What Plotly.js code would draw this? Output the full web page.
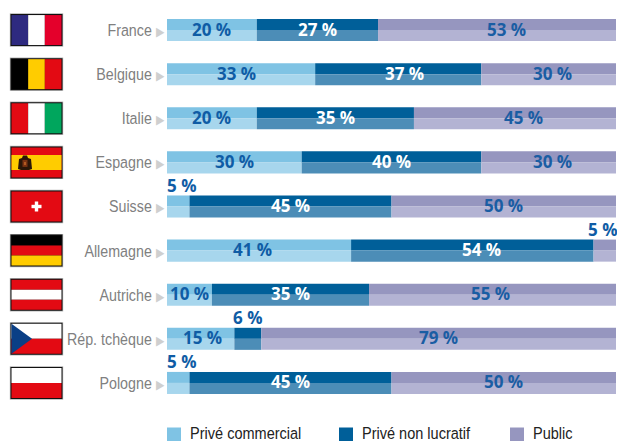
<!DOCTYPE html>
<html><head><meta charset="utf-8">
<script src="https://cdn.plot.ly/plotly-3.0.1.min.js"></script>
<style>html,body{margin:0;padding:0;background:#fff;overflow:hidden}</style></head>
<body><div id="chart" style="width:617px;height:441px"></div>
<script>
const countries = ["France","Belgique","Italie","Espagne","Suisse","Allemagne","Autriche","Rép. tchèque","Pologne"];
const commercial = [20,33,20,30,5,41,10,15,5];
const nonLucratif = [27,37,35,40,45,54,35,6,45];
const publicSector = [53,30,45,30,50,5,55,79,50];
const seriesNames = ["Privé commercial","Privé non lucratif","Public"];
const topColors = ["#7fc3e4","#005f99","#9696bf"];
const lowColors = ["#a7d6ed","#4c8db7","#b3b3d3"];
const labelColors = ["#0f5ca5","#ffffff","#1a5da3"];

const flagDirection = ["v","v","v","es","plain","h","h","cz","h"];
const flagStripes = [
  ["#2e2a80","#ffffff","#e4002b"],
  ["#000000","#ffcc00","#e30a13"],
  ["#e30a13","#ffffff","#00a65d"],
  ["#e30a13","#ffcc00"],
  ["#e30a13"],
  ["#000000","#e30a13","#ffcc00"],
  ["#e30a13","#ffffff","#e30a13"],
  ["#ffffff","#e30a13"],
  ["#ffffff","#e30a13"]
];

const W=617,H=441,L=167,R=1,T=8,B=36;
const pw=W-L-R, ph=H-T-B, rowH=ph/9;
const px=x=>(x-L)/pw, py=y=>1-(y-T)/ph;
const rowY=i=>T+rowH*(i+0.5);
const series=[commercial,nonLucratif,publicSector];
const bases=countries.map((_,i)=>[0,commercial[i],commercial[i]+nonLucratif[i]]);

const traces=[];
series.forEach((vals,s)=>{
  [[topColors,-0.25],[lowColors,0]].forEach(([cols,off])=>{
    traces.push({type:"bar",orientation:"h",name:seriesNames[s],y:countries.map((_,i)=>i),x:vals,
      base:bases.map(b=>b[s]),width:0.25,offset:off,marker:{color:cols[s],line:{width:0}},
      showlegend:false,hoverinfo:"x+name"});
  });
});

const rect=(x0,y0,x1,y1,c)=>({type:"rect",xref:"paper",yref:"paper",x0:px(x0),x1:px(x1),y0:py(y0),y1:py(y1),fillcolor:c,line:{width:0},layer:"above"});
const poly=(pts,c)=>({type:"path",xref:"paper",yref:"paper",layer:"above",fillcolor:c,line:{width:0},
  path:"M"+pts.map(p=>px(p[0])+","+py(p[1])).join("L")+"Z"});
const shapes=[];
countries.forEach((_,i)=>{
  const cy=rowY(i), t=cy-16, b=cy+16, l=10.5, r=62.5;
  shapes.push(rect(l-0.7,t-0.7,r+0.7,b+0.7,"#b5b5b5"));
  shapes.push(rect(l,t,r,b,"#111111"));
  const it=t+1, ib=b-1, il=l+1, ir=r-1, st=flagStripes[i], d=flagDirection[i];
  if(d==="v") st.forEach((c,k)=>shapes.push(rect(il+(ir-il)*k/st.length,it,il+(ir-il)*(k+1)/st.length,ib,c)));
  else if(d==="plain") shapes.push(rect(il,it,ir,ib,st[0]));
  else if(d==="es"){
    shapes.push(rect(il,it,ir,ib,st[0]));
    shapes.push(rect(il,it+(ib-it)*0.25,ir,it+(ib-it)*0.75,st[1]));
    const cx=25, cc=cy+0.5;
    shapes.push(poly([[cx-2,cc-7.5],[cx+2,cc-7.5],[cx+3,cc-5],[cx+6,cc-4],[cx+7,cc+6],[cx+4,cc+7],[cx-4,cc+7],[cx-7,cc+6],[cx-6,cc-4],[cx-3,cc-5]],"#2a1608"));
    shapes.push(rect(cx-2.5,cc-3,cx+2.5,cc+4,"#7a3312"));
    shapes.push(rect(cx-1,cc-1,cx+1,cc+2,"#b25a22"));
  }
  else st.forEach((c,k)=>shapes.push(rect(il,it+(ib-it)*k/st.length,ir,it+(ib-it)*(k+1)/st.length,c)));
  if(d==="cz"){
    const mid=(it+ib)/2, xt=il+20.5;
    shapes.push(poly([[il,it],[xt,mid],[il,ib]],"#0a3f86"));
  }
  if(d==="plain"){
    const cx=36.5;
    shapes.push(rect(cx-5,cy-1.7,cx+5,cy+1.7,"#ffffff"));
    shapes.push(rect(cx-1.7,cy-5,cx+1.7,cy+5,"#ffffff"));
  }
});

// small horizontal nudges (px) of labels, as placed in the reference: "row,series"
const nudge={"0,2":9,"1,0":-5,"1,1":6,"1,2":4,"2,2":9,"3,2":4,"5,0":-7,"5,1":9,"6,2":-2,"7,0":2,"4,0":-2,"8,0":-2,"5,2":3};
const annotations=[];
const valFont=c=>({family:"Open Sans, sans-serif",size:17,color:c,weight:700});
countries.forEach((_,i)=>{
  series.forEach((vals,s)=>{
    const v=vals[i];
    const small=v<=6;
    const a={xref:"x",yref:"y",x:bases[i][s]+v/2,y:i,text:v+" %",showarrow:false,xanchor:"center",yanchor:"middle",
      xshift:nudge[i+","+s]||0,yshift:1,font:valFont(small?"#0f5ca5":labelColors[s])};
    if(small){
      a.yshift=21;
      if(s===0){a.x=bases[i][s];a.xanchor="left";}
      if(s===2){a.x=100;a.xanchor="right";}
    }
    annotations.push(a);
  });
});

const legendX=[167,339,510];
const legendFontSize=16.5;
seriesNames.forEach((n,s)=>{
  shapes.push(rect(legendX[s],427.5,legendX[s]+14,441,topColors[s]));
  annotations.push({xref:"paper",yref:"paper",x:px(legendX[s]+22),y:py(433),xanchor:"left",yanchor:"middle",showarrow:false,text:n,borderpad:0,
    font:{family:"Liberation Sans, sans-serif",size:legendFontSize,color:"#222222"}});
});

const tickText=countries.map(c=>c+' <span style="color:#cfcfcf;font-size:13px">▶</span>');
const layout={width:W,height:H,margin:{l:L,r:R,t:T,b:B,pad:0},paper_bgcolor:"#fff",plot_bgcolor:"#fff",barmode:"overlay",showlegend:false,
  xaxis:{range:[0,100],visible:false,fixedrange:true},
  yaxis:{range:[8.5,-0.5],tickmode:"array",tickvals:countries.map((_,i)=>i),ticktext:tickText,ticks:"",showgrid:false,zeroline:false,showline:false,
    ticklabelstandoff:2,fixedrange:true,tickfont:{family:"Liberation Sans, sans-serif",size:17,color:"#808080"}},
  shapes,annotations};
// The reference uses a condensed grotesque, which is not installed: condense real text horizontally.
function condense(el,sx,useRight){
  const b=el.getBBox(), X=useRight?b.x+b.width:b.x;
  const prev=el.getAttribute("transform")||"";
  el.setAttribute("transform",`${prev} translate(${X},0) scale(${sx},1) translate(${-X},0)`);
}
Plotly.newPlot("chart",traces,layout,{displayModeBar:false,staticPlot:true}).then(gd=>{
  gd.querySelectorAll(".ytick text").forEach(t=>condense(t,0.84,true));
  gd.querySelectorAll(".annotation-text").forEach(t=>{
    if(seriesNames.includes(t.textContent)) condense(t,0.88,false);
  });
});
</script></body></html>
